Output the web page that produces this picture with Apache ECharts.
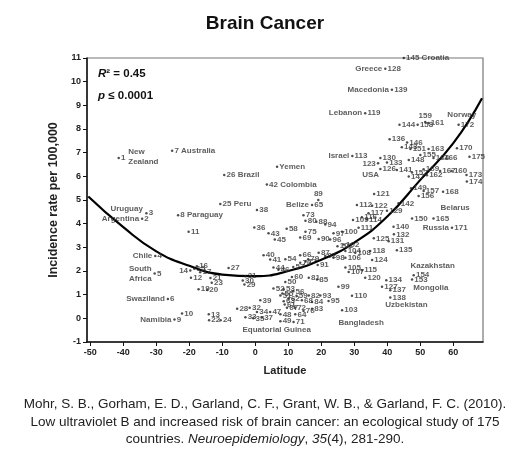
<!DOCTYPE html>
<html>
<head>
<meta charset="utf-8">
<script src="https://cdn.jsdelivr.net/npm/echarts@6/dist/echarts.min.js"></script>
<style>
  html, body { margin: 0; padding: 0; background: #fff; }
  #main { width: 530px; height: 468px; }
</style>
</head>
<body>
<div id="main"></div>
<script>
// 每个国家: [纬度, 发病率, 编号]
const points = [
  [-41.4, 6.77, '1'], [-25.2, 7.08, '7'], [-9.4, 6.06, '26'], [3.5, 5.66, '42'], [6.6, 6.41, 'Yemen'],
  [-33, 4.44, '3'], [-34.3, 4.21, '2'], [-23.4, 4.36, '8'], [-10.6, 4.83, '25'], [0.5, 4.58, '38'],
  [-20.2, 3.66, '11'], [-0.3, 3.84, '36'], [4.0, 3.59, '43'], [5.9, 3.33, '45'], [9.5, 3.78, '58'],
  [-30.3, 2.63, '4'], [-30.5, 1.89, '5'], [-17.7, 2.2, '16'], [-19.7, 2.02, '14'], [-19.5, 1.72, '12'],
  [-16.7, 1.95, '17'], [-18.5, 2.1, '15'], [-13.6, 1.7, '21'], [-13.2, 1.5, '23'], [-17.2, 1.23, '19'],
  [-14.6, 1.2, '20'], [-8.1, 2.13, '27'], [-3, 1.78, '31'], [-3.8, 1.6, '30'], [-3.3, 1.43, '29'],
  [-26.5, 0.82, '6'], [-24.5, -0.05, '9'], [-22.2, 0.2, '10'], [-14.1, 0.17, '13'], [-14, -0.08, '22'],
  [-10.5, -0.08, '24'], [-5.5, 0.41, '28'], [-1.7, 0.45, '32'], [-3, 0.05, '33'], [-0.6, 0.0, '35'],
  [2, 0.04, '37'], [0.5, 0.27, '34'], [4.5, 0.27, '47'], [1.5, 0.76, '39'], [7.6, 0.17, '48'],
  [7.6, -0.12, '49'], [2.5, 2.67, '40'], [4.5, 2.49, '41'], [5.5, 2.15, '44'], [7.0, 2.05, '46'],
  [9.1, 2.5, '54'], [11.5, 2.17, '57'], [11.1, 1.75, '60'], [9.1, 1.54, '50'], [8.6, 1.23, '53'],
  [5.5, 1.26, '52'], [8.2, 1.05, '55'], [11.5, 1.14, '56'], [7.6, 0.97, '51'], [10.1, 0.83, '62'],
  [8.9, 0.58, '61'], [8.6, 0.72, '63'], [9.6, 0.45, '67'], [12, 0.45, '72'], [12.1, 0.17, '64'],
  [11.6, -0.16, '71'], [14.1, 0.76, '68'], [16.2, 0.97, '82'], [17.2, 0.69, '84'], [17.2, 0.41, '83'],
  [14.6, 0.31, '76'], [19.7, 0.97, '93'], [22.2, 0.73, '95'], [12.5, 0.95, '59'], [16.2, 1.72, '81'],
  [18.7, 1.64, '85'], [25.2, 1.33, '99'], [29.3, 0.95, '110'], [26.3, 0.34, '103'], [13.6, 2.67, '66'],
  [16, 2.5, '79'], [19.2, 2.77, '87'], [21.2, 2.63, '92'], [18.9, 2.25, '91'], [13.6, 2.35, '70'],
  [15.2, 2.4, '77'], [17.2, 4.79, '65'], [19.1, 5.0, '89'], [14.6, 4.36, '73'], [15.2, 4.12, '80'],
  [18.5, 4.08, '88'], [21.2, 3.97, '94'], [15.2, 3.66, '75'], [13.6, 3.42, '69'], [19.2, 3.35, '90'],
  [22.7, 3.33, '96'], [23.7, 3.59, '97'], [26.3, 3.66, '100'], [24.9, 3.05, '101'], [26.8, 3.12, '102'],
  [27.3, 2.84, '104'], [30.3, 2.77, '108'], [34.8, 2.84, '118'], [23.7, 2.56, '98'], [27.3, 2.56, '106'],
  [35.4, 2.46, '124'], [27.3, 2.15, '105'], [28.3, 1.96, '107'], [32.3, 2.03, '115'], [33.3, 1.72, '120'],
  [30.8, 4.79, '112'], [35.4, 4.76, '122'], [34.3, 4.44, '117'], [29.6, 4.15, '109'], [33.8, 4.18, '114'],
  [32.3, 4.27, '116'], [39.9, 4.55, '129'], [31.3, 3.83, '111'], [41.9, 3.87, '140'], [42, 3.55, '132'],
  [35.9, 3.38, '125'], [40.4, 3.26, '131'], [42.9, 2.88, '135'], [47.5, 4.22, '150'], [54, 4.22, '165'],
  [59.6, 3.83, '171'], [43.4, 4.86, '142'], [36, 5.25, '121'], [47.2, 5.5, '149'], [51, 5.38, '157'],
  [49.5, 5.17, '156'], [56.9, 5.35, '168'], [48, 1.82, '154'], [47.5, 1.64, '153'], [39.7, 1.61, '134'],
  [38.4, 1.33, '127'], [40.9, 1.19, '137'], [40.9, 0.88, '138'], [39.4, 10.55, '128'], [45, 11, '145'],
  [41.4, 9.66, '139'], [33.3, 8.67, '119'], [51.5, 8.3, '159'], [43.7, 8.18, '144'], [49.2, 8.18, '158'],
  [52.5, 8.25, '161'], [61.6, 8.18, '172'], [40.7, 7.57, '136'], [44.4, 7.23, '143'], [46, 7.43, '146'],
  [47, 7.15, '151'], [52.5, 7.15, '163'], [61.1, 7.19, '170'], [64.9, 6.83, '175'], [29.4, 6.86, '113'],
  [37.9, 6.77, '130'], [46.5, 6.69, '148'], [50, 6.9, '155'], [54, 6.77, '164'], [56.5, 6.77, '166'],
  [37.2, 6.55, '123'], [37.9, 6.31, '126'], [39.9, 6.58, '133'], [42.9, 6.27, '141'], [47.5, 6.16, '152'],
  [46.5, 5.99, '147'], [51, 6.3, '169'], [52, 6.05, '162'], [56, 6.23, '167'], [59.5, 6.23, '160'],
  [64, 6.06, '173'], [64.1, 5.78, '174']
];

// 国家名写在编号右边
const rightNames = {
  '7': 'Australia', '26': 'Brazil', '42': 'Colombia', '8': 'Paraguay',
  '25': 'Peru', '145': 'Croatia'
};
// 国家名写在点的左边
const leftNames = {
  '2': 'Argentina', '4': 'Chile', '5': 'South\nAfrica', '6': 'Swaziland', '9': 'Namibia',
  '65': 'Belize', '171': 'Russia', '128': 'Greece', '139': 'Macedonia', '119': 'Lebanon',
  '113': 'Israel'
};
// 单独放的国家名 [纬度, 发病率, 名称]
const freeNames = [
  [-38.5, 6.82, 'New\nZealand'], [-43.9, 4.62, 'Uruguay'], [-3.9, -0.47, 'Equatorial Guinea'],
  [25.2, -0.17, 'Bangladesh'], [56.1, 4.66, 'Belarus'], [47, 2.2, 'Kazakhstan'],
  [47.9, 1.31, 'Mongolia'], [39.4, 0.59, 'Uzbekistan'], [58.2, 8.6, 'Norway'], [32.4, 6.06, 'USA']
];
const labelPos = { '14': 'left', '123': 'left', '89': 'top', '159': 'top' };

// 二次拟合曲线 (从图上读的)
const curveLat = [-50.6, -40, -30, -20, -10, 0, 10, 20, 30, 40, 50, 60, 68.7];
const curveRate = [5.15, 3.85, 2.83, 2.22, 1.85, 1.78, 2.0, 2.48, 3.2, 4.3, 5.85, 7.4, 9.3];

const xTicks = [-50, -40, -30, -20, -10, 0, 10, 20, 30, 40, 50, 60];

const citation = [
  'Mohr, S. B., Gorham, E. D., Garland, C. F., Grant, W. B., & Garland, F. C. (2010).',
  'Low ultraviolet B and increased risk of brain cancer: an ecological study of 175',
  'countries. {i|Neuroepidemiology}, {i|35}(4), 281-290.'
];

let chart = echarts.init(document.getElementById('main'));

const txt = { fontFamily: 'Arial, Liberation Sans', fontWeight: 'bold', fontSize: 8, color: '#333' };

function citeLine(str, top) {
  return {
    type: 'text',
    left: 'center', top: top,
    style: {
      text: str,
      fontFamily: 'Arial, Liberation Sans',
      fontSize: 13.5,
      fill: '#222',
      rich: {
        i: { fontFamily: 'Arial, Liberation Sans', fontStyle: 'italic', fontSize: 13.5, fill: '#222' }
      }
    }
  }
}

let option = {
  backgroundColor: '#fff',
  animation: false,
  title: {
    text: 'Brain Cancer',
    left: 'center',
    top: 9,
    textStyle: { fontFamily: 'Arial, Liberation Sans', fontSize: 19, fontWeight: 'bold', color: '#111' }
  },
  grid: {
    left: 87, right: 47, top: 58, bottom: 126,
    show: true, borderColor: '#777', borderWidth: 1.2
  },
  xAxis: {
    type: 'value',
    min: -51, max: 69,
    name: 'Latitude',
    nameLocation: 'middle',
    nameGap: 23,
    nameTextStyle: { fontFamily: 'Arial, Liberation Sans', fontWeight: 'bold', fontSize: 11, color: '#222' },
    axisLine: { show: true, onZero: false, lineStyle: { color: '#111', width: 1.5 } },
    axisTick: { show: true, customValues: xTicks, length: 4, lineStyle: { color: '#111' } },
    axisLabel: { customValues: xTicks, fontFamily: 'Arial, Liberation Sans', fontWeight: 'bold', fontSize: 9, color: '#222', margin: 6 },
    splitLine: { show: false }
  },
  yAxis: {
    type: 'value',
    min: -1, max: 11, interval: 1,
    name: 'Incidence rate per 100,000',
    nameLocation: 'middle',
    nameGap: 25,
    nameTextStyle: { fontFamily: 'Arial, Liberation Sans', fontWeight: 'bold', fontSize: 12.5, color: '#222' },
    axisLine: { show: true, onZero: false, lineStyle: { color: '#111', width: 1.5 } },
    axisTick: { show: true, length: 4, lineStyle: { color: '#111' } },
    axisLabel: { fontFamily: 'Arial, Liberation Sans', fontWeight: 'bold', fontSize: 9, color: '#222', margin: 6 },
    splitLine: { show: false }
  },
  series: [
    {
      type: 'line',
      data: curveLat.map((x, i) => [x, curveRate[i]]),
      smooth: true,
      symbol: 'none',
      lineStyle: { color: '#000', width: 2.2 },
      z: 3
    },
    {
      type: 'scatter',
      symbolSize: 2.5,
      itemStyle: { color: '#222' },
      data: points.map(p => ({
        value: [p[0], p[1]],
        label: {
          position: labelPos[p[2]] || 'right',
          formatter: p[2] + (rightNames[p[2]] ? ' ' + rightNames[p[2]] : '')
        }
      })),
      label: Object.assign({ show: true, distance: 1 }, txt),
      labelLayout: { hideOverlap: false },
      z: 4
    },
    {
      type: 'scatter',
      symbolSize: 0,
      silent: true,
      data: points.filter(p => leftNames[p[2]]).map(p => ({
        value: [p[0], p[1]],
        label: { formatter: leftNames[p[2]] }
      })),
      label: Object.assign({ show: true, position: 'left', distance: 3, lineHeight: 10 }, txt),
      z: 4
    },
    {
      type: 'scatter',
      symbolSize: 0,
      silent: true,
      data: freeNames.map(n => ({ value: [n[0], n[1]], label: { formatter: n[2] } })),
      label: Object.assign({ show: true, position: 'right', distance: 0, lineHeight: 10 }, txt),
      z: 4
    }
  ],
  graphic: [
    {
      type: 'text',
      left: 98, top: 68,
      style: {
        text: '{i|R}{n|² = 0.45}',
        rich: {
          i: { fontFamily: 'Arial', fontStyle: 'italic', fontWeight: 'bold', fontSize: 11.5, fill: '#111' },
          n: { fontFamily: 'Arial', fontWeight: 'bold', fontSize: 11.5, fill: '#111' }
        }
      }
    },
    {
      type: 'text',
      left: 98, top: 90,
      style: {
        text: '{i|p} {n|≤ 0.0001}',
        rich: {
          i: { fontFamily: 'Arial', fontStyle: 'italic', fontWeight: 'bold', fontSize: 11.5, fill: '#111' },
          n: { fontFamily: 'Arial', fontWeight: 'bold', fontSize: 11.5, fill: '#111' }
        }
      }
    },
    citeLine(citation[0], 397),
    citeLine(citation[1], 415),
    citeLine(citation[2], 432)
  ]
};

chart.setOption(option);
</script>
</body>
</html>
